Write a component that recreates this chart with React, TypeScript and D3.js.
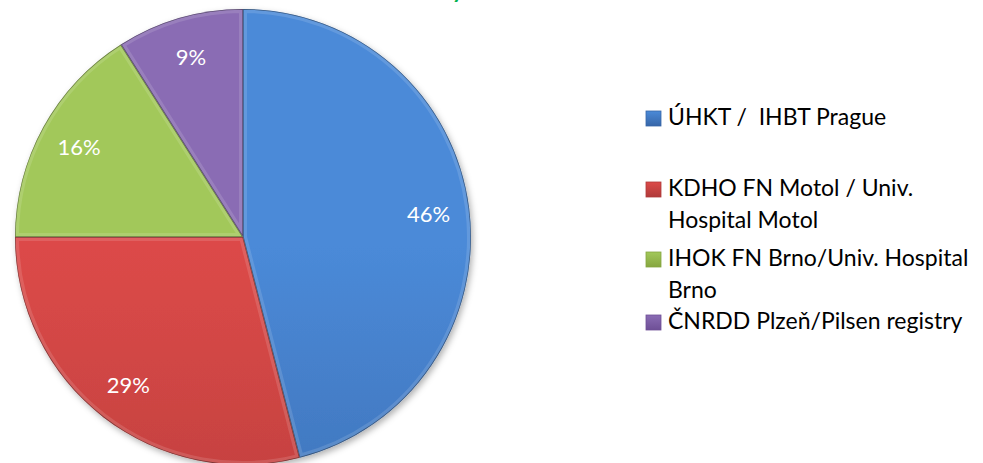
import React from 'react';
import * as d3 from 'd3';

// share of cases per centre (%)
const categories = [
  'ÚHKT /  IHBT Prague',
  'KDHO FN Motol / Univ.\nHospital Motol',
  'IHOK FN Brno/Univ. Hospital\nBrno',
  'ČNRDD Plzeň/Pilsen registry',
];
const values = [46, 29, 16, 9];
const labels = ['46%', '29%', '16%', '9%'];
const colorsTop = ['#4b8ad8', '#dc4a48', '#a2c85a', '#8a6cb4'];
const colorsBottom = ['#3766a8', '#b03a3a', '#86a640', '#6e4f96'];

const W = 983;
const H = 463;
const cx = 243;
const cy = 237;
const R = 228;

export default function App() {
  const pie = d3.pie<number>().sort(null).value(d => d);
  const arcs = pie(values);
  const arc = d3.arc<d3.PieArcDatum<number>>().innerRadius(0).outerRadius(R);
  const labelArc = d3.arc<d3.PieArcDatum<number>>().innerRadius(R * 0.82).outerRadius(R * 0.82);

  // legend rows: baseline of first line of each entry
  const lineH = 31.5;
  const entryBase = [125, 196, 266, 329];

  return (
    <svg
      width={W}
      height={H}
      style={{ position: 'absolute', left: 0, top: 0, background: '#fff' }}
      fontFamily="Lato, 'Open Sans', sans-serif"
    >
      <defs>
        <filter id="shadow" x="-10%" y="-10%" width="120%" height="120%">
          <feDropShadow dx="2" dy="3" stdDeviation="3" floodColor="#000" floodOpacity="0.3" />
        </filter>
        {colorsTop.map((c, i) => (
          <linearGradient key={i} id={`g${i}`} gradientUnits="userSpaceOnUse" x1={0} y1={cy - R} x2={0} y2={cy + R}>
            <stop offset="0" stopColor={c} />
            <stop offset="1" stopColor={colorsBottom[i]} />
          </linearGradient>
        ))}
        {colorsTop.map((c, i) => (
          <linearGradient key={`l${i}`} id={`lg${i}`} x1="0" y1="0" x2="0" y2="1">
            <stop offset="0" stopColor={c} />
            <stop offset="1" stopColor={colorsBottom[i]} />
          </linearGradient>
        ))}
        {arcs.map((a, i) => (
          <clipPath key={i} id={`c${i}`}>
            <path d={arc(a) || ''} transform={`translate(${cx},${cy})`} />
          </clipPath>
        ))}
      </defs>

      {/* title (cut off above the frame) */}
      <text x={452} y={-2} fill="#00b050" fontSize={22} fontWeight="bold">y</text>

      <g transform={`translate(${cx},${cy})`} filter="url(#shadow)">
        {arcs.map((a, i) => (
          <path key={i} d={arc(a) || ''} fill={`url(#g${i})`} />
        ))}
      </g>
      {/* bevel rim */}
      {arcs.map((a, i) => (
        <g key={i} clipPath={`url(#c${i})`}>
          <path
            d={arc(a) || ''}
            transform={`translate(${cx},${cy})`}
            fill="none"
            stroke="#fff"
            strokeOpacity={0.13}
            strokeWidth={8}
          />
          <path
            d={arc(a) || ''}
            transform={`translate(${cx},${cy})`}
            fill="none"
            stroke="#000"
            strokeOpacity={0.4}
            strokeWidth={1.5}
          />
        </g>
      ))}
      <g transform={`translate(${cx},${cy})`}>
        {arcs.map((a, i) => {
          const [x, y] = labelArc.centroid(a);
          return (
            <text key={i} x={x} y={y} dy="0.36em" textAnchor="middle" fill="#fff" fontSize={22}>
              {labels[i]}
            </text>
          );
        })}
      </g>

      <g>
        {categories.map((c, i) => {
          const lines = c.split('\n');
          const b = entryBase[i];
          return (
            <g key={i}>
              <rect x={646} y={b - 14} width={15} height={15} fill={`url(#lg${i})`} stroke={colorsBottom[i]} strokeWidth={0.8} />
              <text x={668} y={b} fontSize={23} fill="#000" style={{ whiteSpace: 'pre' }}>
                {lines.map((l, j) => (
                  <tspan key={j} x={668} y={b + j * lineH}>{l}</tspan>
                ))}
              </text>
            </g>
          );
        })}
      </g>
    </svg>
  );
}
